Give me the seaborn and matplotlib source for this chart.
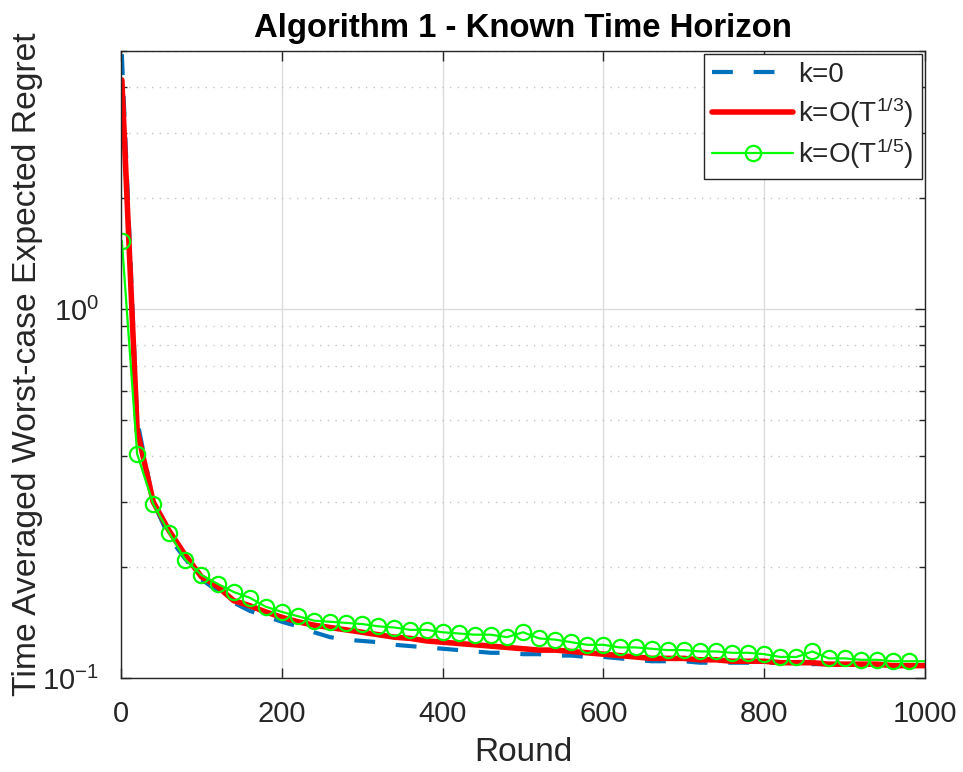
import numpy as np
import pandas as pd
import seaborn as sns
import matplotlib.pyplot as plt
from matplotlib.ticker import LogLocator, NullFormatter

# rounds: first sample at 1, then every 20 rounds
rounds = [1] + list(range(20, 1001, 20))

# k=0 (blue dashed)
regret_k0 = [4.9, 0.50, 0.30, 0.24, 0.21, 0.185, 0.172, 0.160, 0.152, 0.147,
             0.142, 0.138, 0.133, 0.129, 0.127, 0.126, 0.125, 0.123, 0.122, 0.121,
             0.120, 0.119, 0.118, 0.117, 0.117, 0.116, 0.116, 0.115, 0.115, 0.114,
             0.114, 0.113, 0.112, 0.111, 0.111, 0.111, 0.110, 0.110, 0.110, 0.110,
             0.110, 0.110, 0.110, 0.109, 0.109, 0.109, 0.109, 0.109, 0.108, 0.108,
             0.108]

# k=O(T^1/3) (red)
regret_k13 = [4.17, 0.47, 0.30, 0.25, 0.215, 0.188, 0.177, 0.162, 0.157, 0.151,
              0.146, 0.142, 0.139, 0.137, 0.135, 0.133, 0.131, 0.129, 0.128, 0.126,
              0.125, 0.124, 0.123, 0.122, 0.121, 0.120, 0.119, 0.119, 0.118, 0.117,
              0.116, 0.115, 0.114, 0.113, 0.113, 0.113, 0.112, 0.112, 0.111, 0.111,
              0.111, 0.110, 0.110, 0.110, 0.109, 0.109, 0.109, 0.109, 0.108, 0.108,
              0.108]

# k=O(T^1/5) (green, circles)
regret_k15 = [1.53, 0.405, 0.296, 0.247, 0.209, 0.190, 0.180, 0.171, 0.165, 0.156,
              0.151, 0.147, 0.143, 0.142, 0.141, 0.140, 0.138, 0.137, 0.135, 0.135,
              0.133, 0.132, 0.131, 0.131, 0.129, 0.133, 0.128, 0.127, 0.125, 0.123,
              0.123, 0.121, 0.121, 0.120, 0.119, 0.119, 0.118, 0.118, 0.117, 0.117,
              0.116, 0.114, 0.114, 0.118, 0.113, 0.113, 0.112, 0.112, 0.111, 0.111,
              0.111]

labels = ['k=0', 'k=O(T$^{\\mathregular{1/3}}$)', 'k=O(T$^{\\mathregular{1/5}}$)']

sns.set_style("ticks")
plt.rcParams['font.family'] = ['Liberation Sans', 'DejaVu Sans']
plt.rcParams['mathtext.default'] = 'regular'
plt.rcParams['axes.unicode_minus'] = False

grey = '#262626'
fig = plt.figure(figsize=(9.63, 7.72), dpi=100)
ax = fig.add_axes([0.1257, 0.1218, 0.8349, 0.8122])

df = pd.DataFrame({'Round': rounds, 'k0': regret_k0, 'k13': regret_k13, 'k15': regret_k15})

sns.lineplot(data=df, x='Round', y='k0', ax=ax, color='#0072BD', linewidth=3.0,
             linestyle=(0, (5, 5)), label=labels[0])
sns.lineplot(data=df, x='Round', y='k13', ax=ax, color='#FF0000', linewidth=4.0,
             label=labels[1])
sns.lineplot(data=df, x='Round', y='k15', ax=ax, color='#00FF00', linewidth=1.6,
             marker='o', markersize=11, markerfacecolor='none',
             markeredgecolor='#00FF00', markeredgewidth=1.6,
             markevery=slice(0, len(rounds) - 1), label=labels[2])

ax.set_yscale('log')
ax.set_xlim(0, 1000)
ax.set_ylim(0.1, 5)
ax.set_xticks([0, 200, 400, 600, 800, 1000])
ax.yaxis.set_major_locator(LogLocator(base=10, numticks=10))
ax.yaxis.set_minor_locator(LogLocator(base=10, subs=np.arange(2, 10), numticks=20))
ax.yaxis.set_minor_formatter(NullFormatter())

ax.set_axisbelow(True)
ax.grid(which='major', color='#dcdcdc', linewidth=1.0, linestyle='-')
ax.yaxis.grid(which='minor', color='#c4c4c4', linewidth=1.0, linestyle=(0, (1, 4.5)))

ax.tick_params(which='both', direction='in', top=True, right=True, colors=grey,
               labelsize=21, width=1.0)
ax.tick_params(which='major', length=7)
ax.tick_params(which='minor', length=4)
ax.tick_params(axis='x', which='minor', top=False, bottom=False)
ax.tick_params(axis='x', pad=16)
ax.tick_params(axis='y', pad=16)
for sp in ax.spines.values():
    sp.set_visible(True)
    sp.set_color(grey)
    sp.set_linewidth(1.0)

ax.set_xlabel('Round', fontsize=24, color=grey, labelpad=6)
ax.set_ylabel('Time Averaged Worst-case Expected Regret', fontsize=24.3, color=grey, labelpad=-1)
ax.set_title('Algorithm 1 - Known Time Horizon', fontsize=23.7, fontweight='bold',
             color='black', pad=10)

leg = ax.legend(loc='upper right', bbox_to_anchor=(1.0, 1.0), borderaxespad=0.1,
                fontsize=20, handlelength=2.9, frameon=True, fancybox=False,
                edgecolor=grey, framealpha=1, labelspacing=0.25, borderpad=0.3,
                handletextpad=0.2)
leg.get_frame().set_linewidth(1.0)

fig.savefig('out.png', dpi=100)
